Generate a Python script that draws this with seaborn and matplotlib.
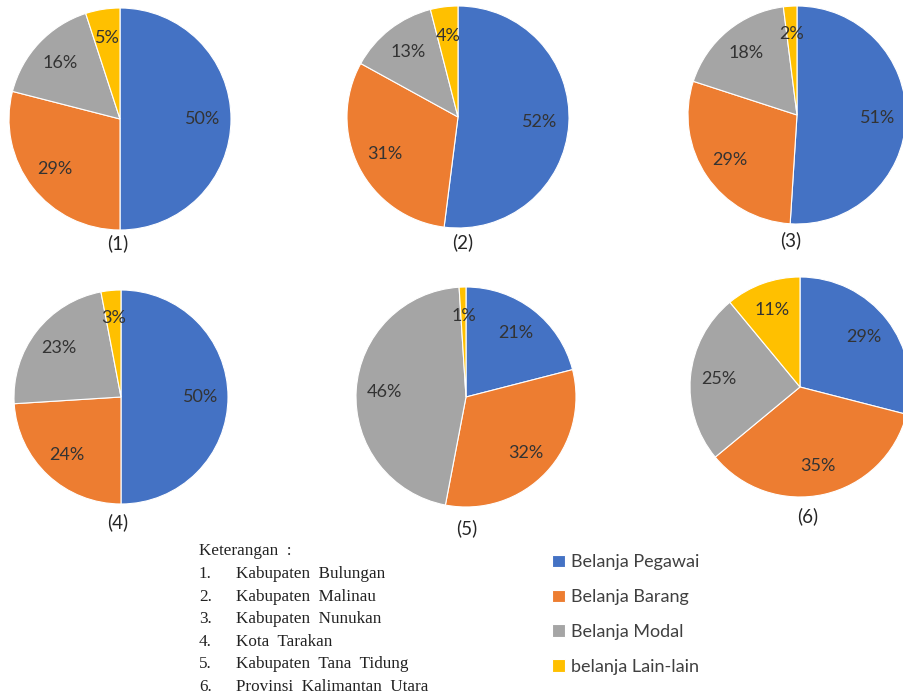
import matplotlib
matplotlib.use("Agg")
import matplotlib.pyplot as plt
import seaborn as sns

sns.set_theme(style="white")
plt.rcParams['font.family'] = ['Lato', 'DejaVu Sans']

categories = ["Belanja Pegawai", "Belanja Barang", "Belanja Modal", "belanja Lain-lain"]
pie_labels = ["(1)", "(2)", "(3)", "(4)", "(5)", "(6)"]
values_1 = [50, 29, 16, 5]
values_2 = [52, 31, 13, 4]
values_3 = [51, 29, 18, 2]
values_4 = [50, 24, 23, 3]
values_5 = [21, 32, 46, 1]
values_6 = [29, 35, 25, 11]
keterangan_title = "Keterangan  :"
keterangan_nums = ["1.", "2.", "3.", "4.", "5.", "6."]
keterangan_names = ["Kabupaten  Bulungan", "Kabupaten  Malinau", "Kabupaten  Nunukan",
                    "Kota  Tarakan", "Kabupaten  Tana  Tidung", "Provinsi  Kalimantan  Utara"]

colors = sns.color_palette(["#4472C4", "#ED7D31", "#A5A5A5", "#FFC000"])

W, H = 904, 694
fig = plt.figure(figsize=(W / 100, H / 100), dpi=100)
fig.patch.set_facecolor("white")

# (center x, center y, radius) in pixels, and label position
layout = [
    (120, 119, 111, 118, 243),
    (458, 117, 111, 463, 242),
    (797, 115, 109, 791, 240),
    (121, 397, 107, 118, 522),
    (466, 397, 110, 467, 528),
    (800, 387, 110, 808, 516),
]
all_values = [values_1, values_2, values_3, values_4, values_5, values_6]

wedges_ref = None
for vals, (cx, cy, r, lx, ly), lab in zip(all_values, layout, pie_labels):
    ax = fig.add_axes([(cx - r) / W, 1 - (cy + r) / H, 2 * r / W, 2 * r / H])
    wedges, texts, autotexts = ax.pie(
        vals, colors=colors, startangle=90, counterclock=False,
        autopct=lambda p: f"{p:.0f}%", pctdistance=0.74,
        wedgeprops=dict(linewidth=0.8, edgecolor="white"),
        textprops=dict(color="#333333", fontsize=13),
    )
    ax.set_xlim(-1, 1)
    ax.set_ylim(-1, 1)
    ax.set_aspect("equal")
    ax.axis("off")
    if wedges_ref is None:
        wedges_ref = wedges
    fig.text(lx / W, 1 - ly / H, lab, ha="center", va="center", fontsize=13.5, color="#262626")

# legend
leg = fig.legend(wedges_ref, categories, loc="upper left",
                 bbox_to_anchor=(545 / W, 1 - 547 / H), frameon=False,
                 fontsize=13, handlelength=0.7, handleheight=0.7,
                 handletextpad=0.35, labelspacing=1.05, borderaxespad=0)
for t in leg.get_texts():
    t.set_color("#404040")

# keterangan
serif = ["Liberation Serif", "DejaVu Serif"]
fs = 12.3
fig.text(199 / W, 1 - 551 / H, keterangan_title, family=serif, fontsize=fs,
         va="center", ha="left", color="#222222")
for i, (n, name) in enumerate(zip(keterangan_nums, keterangan_names)):
    y = 574 + i * 22.6
    fig.text(199 / W, 1 - y / H, n, family=serif, fontsize=fs, va="center", ha="left", color="#222222")
    fig.text(236 / W, 1 - y / H, name, family=serif, fontsize=fs, va="center", ha="left", color="#222222")

fig.savefig("out.png", dpi=100, facecolor="white")
